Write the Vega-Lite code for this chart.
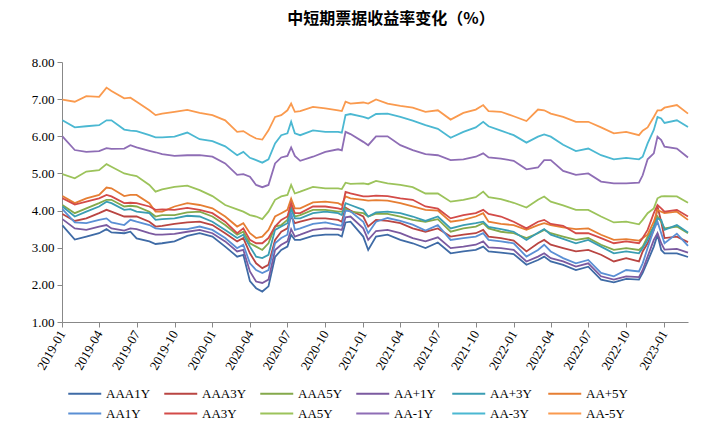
{
"$schema":"https://vega.github.io/schema/vega-lite/v6.json",
"width":626,"height":260,
"autosize":{"type":"none"},
"padding":{"left":62,"top":62,"right":40,"bottom":118},
"background":"white",
"title":{"text":"中短期票据收益率变化（%）","font":"Noto Sans CJK SC","fontSize":16,"fontWeight":"bold","color":"#000000","anchor":"middle","offset":29,"dx":16},
"data":{"values":[
{"d":"2019-01-02","AAA1Y":3.60,"AAA3Y":3.91,"AAA5Y":4.15,"AA+1Y":3.77,"AA+3Y":4.11,"AA+5Y":4.39,"AA1Y":4.04,"AA3Y":4.33,"AA5Y":4.98,"AA-1Y":6.00,"AA-3Y":6.43,"AA-5Y":6.99},
{"d":"2019-02-01","AAA1Y":3.22,"AAA3Y":3.72,"AAA5Y":3.93,"AA+1Y":3.52,"AA+3Y":3.84,"AA+5Y":4.20,"AA1Y":3.68,"AA3Y":4.16,"AA5Y":4.87,"AA-1Y":5.63,"AA-3Y":6.24,"AA-5Y":6.93},
{"d":"2019-03-01","AAA1Y":3.30,"AAA3Y":3.79,"AAA5Y":4.06,"AA+1Y":3.48,"AA+3Y":3.97,"AA+5Y":4.33,"AA1Y":3.66,"AA3Y":4.24,"AA5Y":5.05,"AA-1Y":5.58,"AA-3Y":6.27,"AA-5Y":7.08},
{"d":"2019-04-01","AAA1Y":3.39,"AAA3Y":3.93,"AAA5Y":4.20,"AA+1Y":3.57,"AA+3Y":4.11,"AA+5Y":4.42,"AA1Y":3.75,"AA3Y":4.33,"AA5Y":5.09,"AA-1Y":5.60,"AA-3Y":6.30,"AA-5Y":7.06},
{"d":"2019-04-19","AAA1Y":3.50,"AAA3Y":4.02,"AAA5Y":4.29,"AA+1Y":3.61,"AA+3Y":4.24,"AA+5Y":4.62,"AA1Y":3.79,"AA3Y":4.42,"AA5Y":5.25,"AA-1Y":5.68,"AA-3Y":6.43,"AA-5Y":7.31},
{"d":"2019-05-01","AAA1Y":3.41,"AAA3Y":3.97,"AAA5Y":4.29,"AA+1Y":3.52,"AA+3Y":4.20,"AA+5Y":4.60,"AA1Y":3.68,"AA3Y":4.38,"AA5Y":5.18,"AA-1Y":5.66,"AA-3Y":6.43,"AA-5Y":7.22},
{"d":"2019-06-01","AAA1Y":3.39,"AAA3Y":3.84,"AAA5Y":4.11,"AA+1Y":3.46,"AA+3Y":4.02,"AA+5Y":4.39,"AA1Y":3.61,"AA3Y":4.20,"AA5Y":5.00,"AA-1Y":5.67,"AA-3Y":6.18,"AA-5Y":7.02},
{"d":"2019-06-16","AAA1Y":3.43,"AAA3Y":3.84,"AAA5Y":4.13,"AA+1Y":3.52,"AA+3Y":4.04,"AA+5Y":4.42,"AA1Y":3.75,"AA3Y":4.21,"AA5Y":4.96,"AA-1Y":5.76,"AA-3Y":6.15,"AA-5Y":7.04},
{"d":"2019-07-01","AAA1Y":3.25,"AAA3Y":3.84,"AAA5Y":4.11,"AA+1Y":3.50,"AA+3Y":3.97,"AA+5Y":4.42,"AA1Y":3.70,"AA3Y":4.20,"AA5Y":4.93,"AA-1Y":5.70,"AA-3Y":6.14,"AA-5Y":6.93},
{"d":"2019-08-01","AAA1Y":3.17,"AAA3Y":3.70,"AAA5Y":3.97,"AA+1Y":3.39,"AA+3Y":3.93,"AA+5Y":4.20,"AA1Y":3.61,"AA3Y":4.11,"AA5Y":4.69,"AA-1Y":5.61,"AA-3Y":6.03,"AA-5Y":6.70},
{"d":"2019-08-16","AAA1Y":3.10,"AAA3Y":3.57,"AAA5Y":3.84,"AA+1Y":3.35,"AA+3Y":3.75,"AA+5Y":3.97,"AA1Y":3.52,"AA3Y":4.02,"AA5Y":4.51,"AA-1Y":5.57,"AA-3Y":5.97,"AA-5Y":6.57},
{"d":"2019-09-01","AAA1Y":3.12,"AAA3Y":3.59,"AAA5Y":3.88,"AA+1Y":3.35,"AA+3Y":3.77,"AA+5Y":3.97,"AA1Y":3.50,"AA3Y":4.03,"AA5Y":4.57,"AA-1Y":5.52,"AA-3Y":5.97,"AA-5Y":6.61},
{"d":"2019-10-01","AAA1Y":3.17,"AAA3Y":3.64,"AAA5Y":3.88,"AA+1Y":3.37,"AA+3Y":3.79,"AA+5Y":4.11,"AA1Y":3.50,"AA3Y":4.02,"AA5Y":4.64,"AA-1Y":5.47,"AA-3Y":5.99,"AA-5Y":6.66},
{"d":"2019-11-01","AAA1Y":3.32,"AAA3Y":3.68,"AAA5Y":3.95,"AA+1Y":3.43,"AA+3Y":3.86,"AA+5Y":4.20,"AA1Y":3.50,"AA3Y":4.07,"AA5Y":4.67,"AA-1Y":5.49,"AA-3Y":6.10,"AA-5Y":6.71},
{"d":"2019-12-01","AAA1Y":3.39,"AAA3Y":3.70,"AAA5Y":3.97,"AA+1Y":3.48,"AA+3Y":3.84,"AA+5Y":4.15,"AA1Y":3.57,"AA3Y":4.02,"AA5Y":4.55,"AA-1Y":5.49,"AA-3Y":5.92,"AA-5Y":6.63},
{"d":"2020-01-01","AAA1Y":3.30,"AAA3Y":3.61,"AAA5Y":3.84,"AA+1Y":3.39,"AA+3Y":3.70,"AA+5Y":4.06,"AA1Y":3.48,"AA3Y":3.93,"AA5Y":4.39,"AA-1Y":5.45,"AA-3Y":5.87,"AA-5Y":6.57},
{"d":"2020-02-01","AAA1Y":3.03,"AAA3Y":3.39,"AAA5Y":3.61,"AA+1Y":3.17,"AA+3Y":3.48,"AA+5Y":3.84,"AA1Y":3.26,"AA3Y":3.70,"AA5Y":4.15,"AA-1Y":5.27,"AA-3Y":5.73,"AA-5Y":6.43},
{"d":"2020-03-01","AAA1Y":2.76,"AAA3Y":3.17,"AAA5Y":3.35,"AA+1Y":2.90,"AA+3Y":3.26,"AA+5Y":3.57,"AA1Y":2.99,"AA3Y":3.39,"AA5Y":4.03,"AA-1Y":4.96,"AA-3Y":5.49,"AA-5Y":6.12},
{"d":"2020-03-16","AAA1Y":2.81,"AAA3Y":3.26,"AAA5Y":3.43,"AA+1Y":2.94,"AA+3Y":3.35,"AA+5Y":3.66,"AA1Y":3.08,"AA3Y":3.52,"AA5Y":3.97,"AA-1Y":4.98,"AA-3Y":5.58,"AA-5Y":6.14},
{"d":"2020-04-01","AAA1Y":2.10,"AAA3Y":2.85,"AAA5Y":3.12,"AA+1Y":2.36,"AA+3Y":3.03,"AA+5Y":3.39,"AA1Y":2.58,"AA3Y":3.21,"AA5Y":3.88,"AA-1Y":4.91,"AA-3Y":5.42,"AA-5Y":6.03},
{"d":"2020-04-16","AAA1Y":1.91,"AAA3Y":2.58,"AAA5Y":3.03,"AA+1Y":2.09,"AA+3Y":2.76,"AA+5Y":3.26,"AA1Y":2.40,"AA3Y":3.12,"AA5Y":3.84,"AA-1Y":4.69,"AA-3Y":5.36,"AA-5Y":5.94},
{"d":"2020-05-01","AAA1Y":1.82,"AAA3Y":2.45,"AAA5Y":2.94,"AA+1Y":2.05,"AA+3Y":2.72,"AA+5Y":3.30,"AA1Y":2.32,"AA3Y":3.12,"AA5Y":3.77,"AA-1Y":4.63,"AA-3Y":5.29,"AA-5Y":5.91},
{"d":"2020-05-16","AAA1Y":1.96,"AAA3Y":2.54,"AAA5Y":3.12,"AA+1Y":2.14,"AA+3Y":2.81,"AA+5Y":3.48,"AA1Y":2.40,"AA3Y":3.26,"AA5Y":3.97,"AA-1Y":4.69,"AA-3Y":5.38,"AA-5Y":6.16},
{"d":"2020-06-01","AAA1Y":2.75,"AAA3Y":3.21,"AAA5Y":3.57,"AA+1Y":2.94,"AA+3Y":3.48,"AA+5Y":3.84,"AA1Y":3.12,"AA3Y":3.57,"AA5Y":4.29,"AA-1Y":5.27,"AA-3Y":5.81,"AA-5Y":6.52},
{"d":"2020-06-16","AAA1Y":2.94,"AAA3Y":3.43,"AAA5Y":3.61,"AA+1Y":3.08,"AA+3Y":3.57,"AA+5Y":3.93,"AA1Y":3.26,"AA3Y":3.75,"AA5Y":4.38,"AA-1Y":5.43,"AA-3Y":6.03,"AA-5Y":6.57},
{"d":"2020-07-01","AAA1Y":3.03,"AAA3Y":3.52,"AAA5Y":3.75,"AA+1Y":3.17,"AA+3Y":3.66,"AA+5Y":4.02,"AA1Y":3.35,"AA3Y":3.84,"AA5Y":4.42,"AA-1Y":5.47,"AA-3Y":6.08,"AA-5Y":6.70},
{"d":"2020-07-10","AAA1Y":3.35,"AAA3Y":3.85,"AAA5Y":4.10,"AA+1Y":3.50,"AA+3Y":4.05,"AA+5Y":4.32,"AA1Y":3.95,"AA3Y":4.20,"AA5Y":4.69,"AA-1Y":5.70,"AA-3Y":6.39,"AA-5Y":6.88},
{"d":"2020-07-19","AAA1Y":3.21,"AAA3Y":3.66,"AAA5Y":3.84,"AA+1Y":3.30,"AA+3Y":3.79,"AA+5Y":4.06,"AA1Y":3.48,"AA3Y":3.93,"AA5Y":4.46,"AA-1Y":5.47,"AA-3Y":6.08,"AA-5Y":6.66},
{"d":"2020-08-01","AAA1Y":3.21,"AAA3Y":3.70,"AAA5Y":3.88,"AA+1Y":3.35,"AA+3Y":3.79,"AA+5Y":4.06,"AA1Y":3.52,"AA3Y":3.93,"AA5Y":4.51,"AA-1Y":5.34,"AA-3Y":6.03,"AA-5Y":6.68},
{"d":"2020-09-01","AAA1Y":3.32,"AAA3Y":3.79,"AAA5Y":4.02,"AA+1Y":3.48,"AA+3Y":3.93,"AA+5Y":4.22,"AA1Y":3.64,"AA3Y":4.11,"AA5Y":4.64,"AA-1Y":5.45,"AA-3Y":6.16,"AA-5Y":6.79},
{"d":"2020-10-01","AAA1Y":3.35,"AAA3Y":3.79,"AAA5Y":4.02,"AA+1Y":3.52,"AA+3Y":3.97,"AA+5Y":4.24,"AA1Y":3.68,"AA3Y":4.11,"AA5Y":4.60,"AA-1Y":5.58,"AA-3Y":6.12,"AA-5Y":6.75},
{"d":"2020-11-01","AAA1Y":3.35,"AAA3Y":3.75,"AAA5Y":3.97,"AA+1Y":3.50,"AA+3Y":3.93,"AA+5Y":4.20,"AA1Y":3.61,"AA3Y":4.06,"AA5Y":4.60,"AA-1Y":5.65,"AA-3Y":6.12,"AA-5Y":6.70},
{"d":"2020-11-10","AAA1Y":3.30,"AAA3Y":3.70,"AAA5Y":3.97,"AA+1Y":3.48,"AA+3Y":3.88,"AA+5Y":4.15,"AA1Y":3.59,"AA3Y":4.03,"AA5Y":4.58,"AA-1Y":5.62,"AA-3Y":6.10,"AA-5Y":6.68},
{"d":"2020-11-19","AAA1Y":3.68,"AAA3Y":4.08,"AAA5Y":4.05,"AA+1Y":3.82,"AA+3Y":4.20,"AA+5Y":4.38,"AA1Y":4.00,"AA3Y":4.50,"AA5Y":4.75,"AA-1Y":6.12,"AA-3Y":6.57,"AA-5Y":6.93},
{"d":"2020-12-01","AAA1Y":3.70,"AAA3Y":4.00,"AAA5Y":3.97,"AA+1Y":3.84,"AA+3Y":4.15,"AA+5Y":4.33,"AA1Y":3.98,"AA3Y":4.46,"AA5Y":4.72,"AA-1Y":6.06,"AA-3Y":6.60,"AA-5Y":6.88},
{"d":"2021-01-01","AAA1Y":3.30,"AAA3Y":3.84,"AAA5Y":3.93,"AA+1Y":3.52,"AA+3Y":4.02,"AA+5Y":4.29,"AA1Y":3.70,"AA3Y":4.38,"AA5Y":4.73,"AA-1Y":5.85,"AA-3Y":6.52,"AA-5Y":6.91},
{"d":"2021-01-13","AAA1Y":2.94,"AAA3Y":3.57,"AAA5Y":3.84,"AA+1Y":3.21,"AA+3Y":3.84,"AA+5Y":4.27,"AA1Y":3.39,"AA3Y":4.38,"AA5Y":4.71,"AA-1Y":5.76,"AA-3Y":6.48,"AA-5Y":6.88},
{"d":"2021-02-01","AAA1Y":3.30,"AAA3Y":3.75,"AAA5Y":3.92,"AA+1Y":3.45,"AA+3Y":3.95,"AA+5Y":4.28,"AA1Y":3.70,"AA3Y":4.40,"AA5Y":4.80,"AA-1Y":6.00,"AA-3Y":6.60,"AA-5Y":6.99},
{"d":"2021-03-01","AAA1Y":3.35,"AAA3Y":3.72,"AAA5Y":3.91,"AA+1Y":3.48,"AA+3Y":3.97,"AA+5Y":4.27,"AA1Y":3.80,"AA3Y":4.39,"AA5Y":4.73,"AA-1Y":6.00,"AA-3Y":6.61,"AA-5Y":6.88},
{"d":"2021-04-01","AAA1Y":3.21,"AAA3Y":3.66,"AAA5Y":3.84,"AA+1Y":3.39,"AA+3Y":3.93,"AA+5Y":4.20,"AA1Y":3.72,"AA3Y":4.33,"AA5Y":4.69,"AA-1Y":5.76,"AA-3Y":6.52,"AA-5Y":6.82},
{"d":"2021-05-01","AAA1Y":3.12,"AAA3Y":3.52,"AAA5Y":3.75,"AA+1Y":3.26,"AA+3Y":3.84,"AA+5Y":4.11,"AA1Y":3.62,"AA3Y":4.29,"AA5Y":4.63,"AA-1Y":5.63,"AA-3Y":6.42,"AA-5Y":6.77},
{"d":"2021-06-01","AAA1Y":2.99,"AAA3Y":3.43,"AAA5Y":3.70,"AA+1Y":3.17,"AA+3Y":3.72,"AA+5Y":4.02,"AA1Y":3.46,"AA3Y":4.11,"AA5Y":4.46,"AA-1Y":5.52,"AA-3Y":6.30,"AA-5Y":6.66},
{"d":"2021-07-01","AAA1Y":3.14,"AAA3Y":3.52,"AAA5Y":3.77,"AA+1Y":3.28,"AA+3Y":3.84,"AA+5Y":4.00,"AA1Y":3.61,"AA3Y":4.05,"AA5Y":4.46,"AA-1Y":5.49,"AA-3Y":6.20,"AA-5Y":6.70},
{"d":"2021-08-01","AAA1Y":2.85,"AAA3Y":3.30,"AAA5Y":3.43,"AA+1Y":2.99,"AA+3Y":3.52,"AA+5Y":3.70,"AA1Y":3.21,"AA3Y":3.79,"AA5Y":4.24,"AA-1Y":5.36,"AA-3Y":5.96,"AA-5Y":6.45},
{"d":"2021-09-01","AAA1Y":2.90,"AAA3Y":3.35,"AAA5Y":3.52,"AA+1Y":3.03,"AA+3Y":3.61,"AA+5Y":3.75,"AA1Y":3.26,"AA3Y":3.88,"AA5Y":4.29,"AA-1Y":5.38,"AA-3Y":6.12,"AA-5Y":6.63},
{"d":"2021-10-01","AAA1Y":2.94,"AAA3Y":3.39,"AAA5Y":3.57,"AA+1Y":3.08,"AA+3Y":3.66,"AA+5Y":3.84,"AA1Y":3.30,"AA3Y":3.93,"AA5Y":4.36,"AA-1Y":5.45,"AA-3Y":6.24,"AA-5Y":6.72},
{"d":"2021-10-19","AAA1Y":3.03,"AAA3Y":3.48,"AAA5Y":3.66,"AA+1Y":3.17,"AA+3Y":3.70,"AA+5Y":3.93,"AA1Y":3.39,"AA3Y":4.02,"AA5Y":4.51,"AA-1Y":5.54,"AA-3Y":6.39,"AA-5Y":6.84},
{"d":"2021-11-01","AAA1Y":2.90,"AAA3Y":3.30,"AAA5Y":3.52,"AA+1Y":3.01,"AA+3Y":3.56,"AA+5Y":3.70,"AA1Y":3.21,"AA3Y":3.91,"AA5Y":4.36,"AA-1Y":5.43,"AA-3Y":6.27,"AA-5Y":6.68},
{"d":"2021-12-01","AAA1Y":2.87,"AAA3Y":3.26,"AAA5Y":3.43,"AA+1Y":2.99,"AA+3Y":3.50,"AA+5Y":3.64,"AA1Y":3.17,"AA3Y":3.84,"AA5Y":4.31,"AA-1Y":5.40,"AA-3Y":6.15,"AA-5Y":6.66},
{"d":"2022-01-01","AAA1Y":2.83,"AAA3Y":3.19,"AAA5Y":3.39,"AA+1Y":2.94,"AA+3Y":3.43,"AA+5Y":3.61,"AA1Y":3.12,"AA3Y":3.70,"AA5Y":4.21,"AA-1Y":5.34,"AA-3Y":6.03,"AA-5Y":6.54},
{"d":"2022-02-01","AAA1Y":2.54,"AAA3Y":2.90,"AAA5Y":3.26,"AA+1Y":2.63,"AA+3Y":3.21,"AA+5Y":3.48,"AA1Y":2.76,"AA3Y":3.52,"AA5Y":4.08,"AA-1Y":5.11,"AA-3Y":5.83,"AA-5Y":6.41},
{"d":"2022-03-01","AAA1Y":2.67,"AAA3Y":3.12,"AAA5Y":3.39,"AA+1Y":2.76,"AA+3Y":3.40,"AA+5Y":3.61,"AA1Y":2.94,"AA3Y":3.70,"AA5Y":4.29,"AA-1Y":5.16,"AA-3Y":5.99,"AA-5Y":6.72},
{"d":"2022-03-16","AAA1Y":2.76,"AAA3Y":3.21,"AAA5Y":3.48,"AA+1Y":2.85,"AA+3Y":3.50,"AA+5Y":3.66,"AA1Y":3.08,"AA3Y":3.75,"AA5Y":4.38,"AA-1Y":5.36,"AA-3Y":6.05,"AA-5Y":6.70},
{"d":"2022-04-01","AAA1Y":2.63,"AAA3Y":3.08,"AAA5Y":3.39,"AA+1Y":2.72,"AA+3Y":3.35,"AA+5Y":3.61,"AA1Y":2.90,"AA3Y":3.64,"AA5Y":4.24,"AA-1Y":5.36,"AA-3Y":5.99,"AA-5Y":6.61},
{"d":"2022-05-01","AAA1Y":2.54,"AAA3Y":2.99,"AAA5Y":3.30,"AA+1Y":2.63,"AA+3Y":3.24,"AA+5Y":3.55,"AA1Y":2.72,"AA3Y":3.59,"AA5Y":4.14,"AA-1Y":5.07,"AA-3Y":5.77,"AA-5Y":6.52},
{"d":"2022-06-01","AAA1Y":2.40,"AAA3Y":2.90,"AAA5Y":3.21,"AA+1Y":2.49,"AA+3Y":3.12,"AA+5Y":3.50,"AA1Y":2.58,"AA3Y":3.39,"AA5Y":4.02,"AA-1Y":4.96,"AA-3Y":5.60,"AA-5Y":6.39},
{"d":"2022-07-01","AAA1Y":2.49,"AAA3Y":2.94,"AAA5Y":3.26,"AA+1Y":2.58,"AA+3Y":3.21,"AA+5Y":3.52,"AA1Y":2.67,"AA3Y":3.39,"AA5Y":4.02,"AA-1Y":5.00,"AA-3Y":5.67,"AA-5Y":6.39},
{"d":"2022-08-01","AAA1Y":2.14,"AAA3Y":2.81,"AAA5Y":3.08,"AA+1Y":2.23,"AA+3Y":3.03,"AA+5Y":3.35,"AA1Y":2.32,"AA3Y":3.26,"AA5Y":3.84,"AA-1Y":4.78,"AA-3Y":5.49,"AA-5Y":6.24},
{"d":"2022-09-01","AAA1Y":2.07,"AAA3Y":2.63,"AAA5Y":2.94,"AA+1Y":2.14,"AA+3Y":2.85,"AA+5Y":3.21,"AA1Y":2.23,"AA3Y":3.12,"AA5Y":3.68,"AA-1Y":4.73,"AA-3Y":5.38,"AA-5Y":6.08},
{"d":"2022-10-01","AAA1Y":2.16,"AAA3Y":2.72,"AAA5Y":2.99,"AA+1Y":2.23,"AA+3Y":2.90,"AA+5Y":3.23,"AA1Y":2.40,"AA3Y":3.17,"AA5Y":3.70,"AA-1Y":4.73,"AA-3Y":5.42,"AA-5Y":6.12},
{"d":"2022-11-01","AAA1Y":2.14,"AAA3Y":2.63,"AAA5Y":2.94,"AA+1Y":2.21,"AA+3Y":2.85,"AA+5Y":3.19,"AA1Y":2.36,"AA3Y":3.12,"AA5Y":3.63,"AA-1Y":4.75,"AA-3Y":5.38,"AA-5Y":6.03},
{"d":"2022-11-10","AAA1Y":2.32,"AAA3Y":2.90,"AAA5Y":3.03,"AA+1Y":2.40,"AA+3Y":2.99,"AA+5Y":3.26,"AA1Y":2.58,"AA3Y":3.26,"AA5Y":3.75,"AA-1Y":4.95,"AA-3Y":5.45,"AA-5Y":6.15},
{"d":"2022-11-22","AAA1Y":2.63,"AAA3Y":3.12,"AAA5Y":3.30,"AA+1Y":2.76,"AA+3Y":3.21,"AA+5Y":3.35,"AA1Y":2.99,"AA3Y":3.48,"AA5Y":3.93,"AA-1Y":5.38,"AA-3Y":5.81,"AA-5Y":6.24},
{"d":"2022-12-07","AAA1Y":3.03,"AAA3Y":3.48,"AAA5Y":3.57,"AA+1Y":3.21,"AA+3Y":3.57,"AA+5Y":3.70,"AA1Y":3.48,"AA3Y":3.93,"AA5Y":4.06,"AA-1Y":5.54,"AA-3Y":6.17,"AA-5Y":6.52},
{"d":"2022-12-16","AAA1Y":3.35,"AAA3Y":4.11,"AAA5Y":3.84,"AA+1Y":3.39,"AA+3Y":3.79,"AA+5Y":4.02,"AA1Y":3.70,"AA3Y":4.15,"AA5Y":4.33,"AA-1Y":5.99,"AA-3Y":6.52,"AA-5Y":6.70},
{"d":"2022-12-25","AAA1Y":2.94,"AAA3Y":3.70,"AAA5Y":3.70,"AA+1Y":3.12,"AA+3Y":3.75,"AA+5Y":3.97,"AA1Y":3.39,"AA3Y":4.06,"AA5Y":4.38,"AA-1Y":5.90,"AA-3Y":6.48,"AA-5Y":6.70},
{"d":"2023-01-02","AAA1Y":2.85,"AAA3Y":3.26,"AAA5Y":3.52,"AA+1Y":2.95,"AA+3Y":3.48,"AA+5Y":3.93,"AA1Y":3.12,"AA3Y":3.97,"AA5Y":4.39,"AA-1Y":5.72,"AA-3Y":6.36,"AA-5Y":6.77},
{"d":"2023-02-01","AAA1Y":2.85,"AAA3Y":3.30,"AAA5Y":3.57,"AA+1Y":2.97,"AA+3Y":3.61,"AA+5Y":3.97,"AA1Y":3.38,"AA3Y":4.02,"AA5Y":4.38,"AA-1Y":5.67,"AA-3Y":6.43,"AA-5Y":6.84},
{"d":"2023-02-28","AAA1Y":2.75,"AAA3Y":3.15,"AAA5Y":3.39,"AA+1Y":2.87,"AA+3Y":3.41,"AA+5Y":3.75,"AA1Y":3.05,"AA3Y":3.84,"AA5Y":4.21,"AA-1Y":5.43,"AA-3Y":6.25,"AA-5Y":6.61}
]},
"transform":[{"fold":["AAA1Y","AAA3Y","AAA5Y","AA+1Y","AA+3Y","AA+5Y","AA1Y","AA3Y","AA5Y","AA-1Y","AA-3Y","AA-5Y"],"as":["series","value"]}],
"mark":{"type":"line","strokeWidth":1.8},
"encoding":{
"x":{"field":"d","type":"temporal","scale":{"domain":["2019-01-01","2023-02-28"],"nice":false},
 "axis":{"title":null,"format":"%Y-%m","tickCount":{"interval":"month","step":3},"labelAngle":-60,"labelAlign":"right","labelBaseline":"middle","labelFont":"Liberation Serif","labelFontSize":13,"labelColor":"#000000","labelPadding":4,"tickSize":5,"tickColor":"#888888","domainColor":"#888888","grid":false,"labelOverlap":false}},
"y":{"field":"value","type":"quantitative","scale":{"domain":[1,8],"nice":false,"zero":false},
 "axis":{"title":null,"values":[1,2,3,4,5,6,7,8],"format":".2f","labelFont":"Liberation Serif","labelFontSize":13,"labelColor":"#000000","labelPadding":3,"tickSize":5,"tickColor":"#888888","domainColor":"#888888","grid":false}},
"color":{"field":"series","type":"nominal",
 "scale":{"domain":["AAA1Y","AAA3Y","AAA5Y","AA+1Y","AA+3Y","AA+5Y","AA1Y","AA3Y","AA5Y","AA-1Y","AA-3Y","AA-5Y"],
  "range":["#3F6BA6","#B94542","#84A94B","#7B5AA0","#3A9DB3","#E67E33","#5A8FD4","#D34B48","#9CC35B","#8E6DB5","#4BB8D2","#FA9A4E"]},
 "legend":{"title":null,"orient":"none","legendX":5,"legendY":322,"direction":"horizontal","columns":6,"symbolType":"M-1,0L3,0","symbolSize":272,"symbolStrokeWidth":2,"labelFont":"Liberation Serif","labelFontSize":13,"labelColor":"#000000","labelOffset":20,"columnPadding":9,"rowPadding":3,"gridAlign":"all","padding":0}}
},
"config":{"view":{"stroke":null}}
}
